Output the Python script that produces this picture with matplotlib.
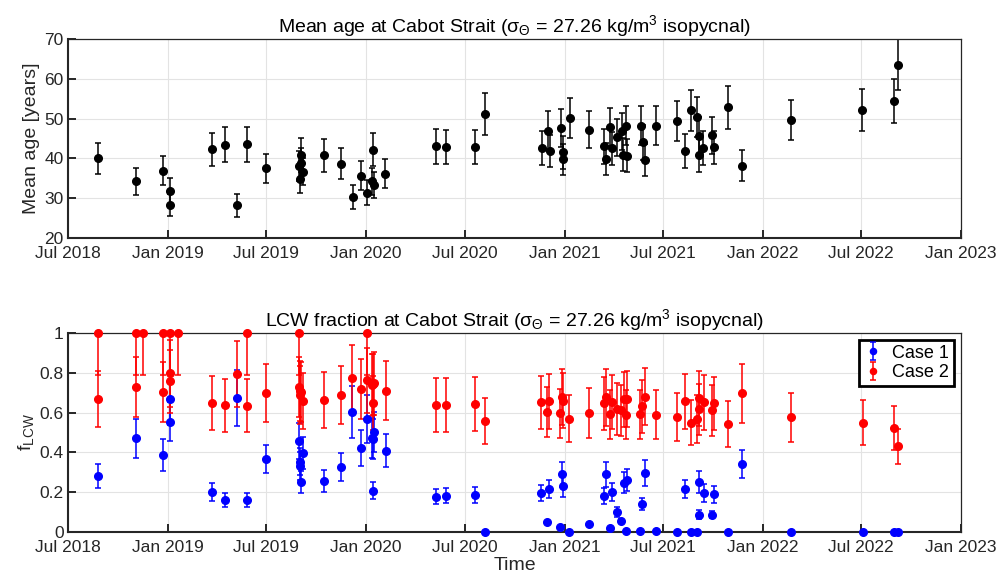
import matplotlib
matplotlib.use("Agg")
import matplotlib.pyplot as plt
import numpy as np
import pandas as pd

plt.rcParams["font.family"] = ["Liberation Sans", "DejaVu Sans"]
plt.rcParams["mathtext.fontset"] = "custom"
plt.rcParams["mathtext.rm"] = "Liberation Sans"
plt.rcParams["mathtext.it"] = "Liberation Sans"

# --- mean age (top panel) ---
age_dates = ["2018-08-25", "2018-11-04", "2018-12-23", "2019-01-05", "2019-01-05",
             "2019-03-23", "2019-04-16", "2019-05-08", "2019-05-27", "2019-07-01",
             "2019-08-30", "2019-09-01", "2019-09-03", "2019-09-04", "2019-09-06",
             "2019-10-16", "2019-11-15", "2019-12-08", "2019-12-23", "2020-01-03",
             "2020-01-12", "2020-01-13", "2020-01-15", "2020-02-05", "2020-05-09",
             "2020-05-28", "2020-07-20", "2020-08-07", "2020-11-20", "2020-12-02",
             "2020-12-05", "2020-12-25", "2020-12-29", "2020-12-29", "2021-01-10",
             "2021-02-15", "2021-03-15", "2021-03-18", "2021-03-26", "2021-03-29",
             "2021-04-08", "2021-04-16", "2021-04-19", "2021-04-23", "2021-04-25",
             "2021-05-22", "2021-05-25", "2021-05-28", "2021-06-18", "2021-07-27",
             "2021-08-10", "2021-08-22", "2021-09-02", "2021-09-05", "2021-09-06",
             "2021-09-13", "2021-09-30", "2021-10-03", "2021-10-28", "2021-11-24",
             "2022-02-22", "2022-07-03", "2022-08-30", "2022-09-06"]
age = [40.0, 34.3, 36.9, 31.8, 28.3,
       42.3, 43.4, 28.2, 43.5, 37.5,
       38.1, 34.7, 38.8, 40.9, 36.6,
       40.8, 38.6, 30.3, 35.7, 31.4,
       34.3, 42.2, 33.4, 36.2, 43.1,
       42.9, 42.8, 51.2, 42.6, 47.0,
       41.9, 47.6, 41.5, 39.8, 50.1,
       47.2, 43.0, 39.8, 47.8, 42.5,
       45.3, 46.8, 40.9, 48.2, 40.7,
       48.2, 44.1, 39.6, 48.2, 49.3,
       41.9, 52.1, 50.4, 45.7, 40.8,
       42.6, 45.8, 42.8, 52.8, 38.2,
       49.6, 52.2, 54.5, 63.5]
age_err = [3.9, 3.4, 3.7, 3.2, 2.8,
           4.2, 4.4, 2.9, 4.4, 3.7,
           3.8, 3.3, 3.9, 4.2, 3.4,
           4.1, 3.9, 3.1, 3.6, 3.2,
           3.4, 4.2, 3.3, 3.6, 4.4,
           4.3, 4.3, 5.2, 4.2, 4.8,
           4.1, 4.7, 4.1, 3.9, 5.0,
           4.7, 4.3, 4.0, 4.8, 4.2,
           4.6, 4.7, 4.1, 4.9, 4.1,
           4.9, 4.4, 4.0, 4.9, 5.0,
           4.2, 5.2, 5.0, 4.6, 4.1,
           4.2, 4.6, 4.2, 5.3, 3.8,
           5.0, 5.2, 5.5, 6.4]

# --- LCW fraction, case 1 ---
c1_dates = ["2018-08-25", "2018-11-04", "2018-12-23", "2019-01-05", "2019-01-05",
            "2019-03-23", "2019-04-16", "2019-05-08", "2019-05-27", "2019-07-01",
            "2019-08-30", "2019-09-01", "2019-09-02", "2019-09-04", "2019-09-06",
            "2019-10-16", "2019-11-15", "2019-12-07", "2019-12-23", "2020-01-03",
            "2020-01-12", "2020-01-13", "2020-01-14", "2020-01-15", "2020-02-06",
            "2020-05-09", "2020-05-28", "2020-07-19", "2020-08-07", "2020-11-18",
            "2020-11-30", "2020-12-03", "2020-12-23", "2020-12-27", "2020-12-28",
            "2021-01-09", "2021-02-15", "2021-03-14", "2021-03-18", "2021-03-25",
            "2021-03-29", "2021-04-08", "2021-04-15", "2021-04-20", "2021-04-23",
            "2021-04-25", "2021-05-20", "2021-05-24", "2021-05-28", "2021-06-18",
            "2021-07-27", "2021-08-10", "2021-08-22", "2021-09-02", "2021-09-05",
            "2021-09-06", "2021-09-14", "2021-09-30", "2021-10-03", "2021-10-28",
            "2021-11-24", "2022-02-22", "2022-07-04", "2022-08-30", "2022-09-06"]
c1 = [0.28, 0.47, 0.386, 0.67, 0.555,
      0.20, 0.163, 0.675, 0.16, 0.366,
      0.456, 0.354, 0.33, 0.25, 0.396,
      0.255, 0.327, 0.602, 0.421, 0.567,
      0.473, 0.208, 0.466, 0.503, 0.408,
      0.178, 0.183, 0.188, 0.0, 0.196,
      0.049, 0.216, 0.027, 0.289, 0.232,
      0.0, 0.042, 0.183, 0.29, 0.018,
      0.20, 0.102, 0.057, 0.248, 0.007,
      0.26, 0.007, 0.143, 0.295, 0.007,
      0.0, 0.216, 0.0, 0.0, 0.253,
      0.087, 0.196, 0.087, 0.19, 0.0,
      0.34, 0.0, 0.0, 0.0, 0.0]
c1_err = [0.06, 0.10, 0.08, 0.13, 0.10,
          0.045, 0.035, 0.14, 0.035, 0.07,
          0.09, 0.07, 0.07, 0.055, 0.08,
          0.055, 0.07, 0.13, 0.09, 0.12,
          0.10, 0.043, 0.10, 0.10, 0.083,
          0.037, 0.038, 0.04, 0.0, 0.042,
          0.0, 0.047, 0.0, 0.062, 0.058,
          0.0, 0.0, 0.04, 0.062, 0.0,
          0.045, 0.025, 0.01, 0.054, 0.0,
          0.055, 0.0, 0.03, 0.065, 0.0,
          0.0, 0.045, 0.0, 0.0, 0.055,
          0.022, 0.043, 0.017, 0.042, 0.0,
          0.07, 0.0, 0.0, 0.0, 0.0]

# --- LCW fraction, case 2 ---
c2_dates = ["2018-08-25", "2018-08-25", "2018-11-04", "2018-11-04", "2018-11-16",
            "2018-12-23", "2018-12-23", "2019-01-05", "2019-01-05", "2019-01-05",
            "2019-01-19", "2019-03-23", "2019-04-16", "2019-05-08", "2019-05-27",
            "2019-05-27", "2019-07-01", "2019-08-30", "2019-08-30", "2019-09-01",
            "2019-09-02", "2019-09-04", "2019-09-06", "2019-10-16", "2019-11-15",
            "2019-12-07", "2019-12-23", "2020-01-03", "2020-01-03", "2020-01-12",
            "2020-01-13", "2020-01-14", "2020-01-15", "2020-02-06", "2020-05-09",
            "2020-05-28", "2020-07-19", "2020-08-07", "2020-11-18", "2020-11-30",
            "2020-12-03", "2020-12-23", "2020-12-27", "2020-12-28", "2021-01-09",
            "2021-02-15", "2021-03-14", "2021-03-18", "2021-03-25", "2021-03-29",
            "2021-04-08", "2021-04-15", "2021-04-20", "2021-04-23", "2021-04-25",
            "2021-05-20", "2021-05-24", "2021-05-28", "2021-06-18", "2021-07-27",
            "2021-08-10", "2021-08-22", "2021-09-02", "2021-09-05", "2021-09-06",
            "2021-09-14", "2021-09-30", "2021-10-03", "2021-10-28", "2021-11-24",
            "2022-02-22", "2022-07-04", "2022-08-30", "2022-09-06"]
c2 = [1.0, 0.67, 1.0, 0.73, 1.0,
      1.0, 0.705, 1.0, 0.797, 0.757,
      1.0, 0.648, 0.636, 0.795, 1.0,
      0.634, 0.698, 1.0, 0.73, 0.69,
      0.71, 0.705, 0.66, 0.664, 0.688,
      0.775, 0.718, 1.0, 0.762, 0.737,
      0.648, 0.742, 0.747, 0.711, 0.64,
      0.64, 0.643, 0.557, 0.651, 0.602,
      0.656, 0.596, 0.678, 0.659, 0.57,
      0.60, 0.646, 0.676, 0.592, 0.653,
      0.619, 0.612, 0.666, 0.59, 0.669,
      0.592, 0.631, 0.68, 0.589, 0.579,
      0.656, 0.55, 0.567, 0.616, 0.671,
      0.651, 0.612, 0.646, 0.542, 0.696,
      0.576, 0.549, 0.523, 0.43]
c2_err = [0.21, 0.14, 0.21, 0.15, 0.21,
          0.21, 0.15, 0.21, 0.167, 0.16,
          0.21, 0.135, 0.133, 0.167, 0.21,
          0.134, 0.147, 0.21, 0.15, 0.145,
          0.15, 0.15, 0.14, 0.14, 0.145,
          0.165, 0.15, 0.21, 0.165, 0.155,
          0.136, 0.155, 0.157, 0.15, 0.135,
          0.135, 0.135, 0.117, 0.135, 0.125,
          0.137, 0.125, 0.142, 0.138, 0.12,
          0.126, 0.135, 0.142, 0.124, 0.137,
          0.13, 0.128, 0.14, 0.124, 0.14,
          0.124, 0.132, 0.143, 0.123, 0.121,
          0.137, 0.115, 0.119, 0.129, 0.14,
          0.136, 0.128, 0.135, 0.114, 0.148,
          0.122, 0.114, 0.11, 0.09]

xticks = ["2018-07-01", "2019-01-01", "2019-07-01", "2020-01-01", "2020-07-01",
          "2021-01-01", "2021-07-01", "2022-01-01", "2022-07-01", "2023-01-01"]
xticklabels = ["Jul 2018", "Jan 2019", "Jul 2019", "Jan 2020", "Jul 2020",
               "Jan 2021", "Jul 2021", "Jan 2022", "Jul 2022", "Jan 2023"]

axcol = "#262626"


def style_axes(ax, ymin, ymax, yticks, yticklabels):
    ax.set_xlim(pd.Timestamp(xticks[0]), pd.Timestamp(xticks[-1]))
    ax.set_ylim(ymin, ymax)
    ax.set_xticks(pd.to_datetime(xticks))
    ax.set_xticklabels(xticklabels)
    ax.set_yticks(yticks)
    ax.set_yticklabels(yticklabels)
    ax.grid(True, color="#e3e3e3", linewidth=0.8)
    ax.set_axisbelow(True)
    ax.tick_params(direction="in", length=6, width=1.4, labelsize=12.5,
                   colors=axcol, top=False, right=False)
    ax.tick_params(axis="x", pad=5.5)
    ax.tick_params(axis="y", pad=3)
    for s in ["left", "bottom"]:
        ax.spines[s].set_linewidth(1.5)
        ax.spines[s].set_color(axcol)
    for s in ["top", "right"]:
        ax.spines[s].set_linewidth(0.9)
        ax.spines[s].set_color(axcol)


def clipped_err(vals, errs, lo, hi):
    v = np.array(vals)
    e = np.array(errs)
    return np.vstack([np.minimum(e, v - lo), np.minimum(e, hi - v)])


fig = plt.figure(figsize=(10.02, 5.83), dpi=100)

# Panel 1: mean age
ax1 = fig.add_axes([0.0679, 0.5918, 0.8912, 0.3413])
ax1.errorbar(pd.to_datetime(age_dates), age, yerr=age_err, fmt="o", color="black",
             markersize=5.5, elinewidth=1.1, capsize=2.2, capthick=1.1)
style_axes(ax1, 20, 70, [20, 30, 40, 50, 60, 70], ["20", "30", "40", "50", "60", "70"])
ax1.set_ylabel("Mean age [years]", fontsize=14, color=axcol, labelpad=3)
ax1.set_title("Mean age at Cabot Strait (σ$_\\mathregular{Θ}$ = 27.26 kg/m$^\\mathregular{3}$ isopycnal)",
              fontsize=14, color="black", pad=5)

# Panel 2: LCW fraction
ax2 = fig.add_axes([0.0679, 0.0875, 0.8912, 0.3413])
ax2.errorbar(pd.to_datetime(c1_dates), c1, yerr=clipped_err(c1, c1_err, 0, 1), fmt="o",
             color="blue", markersize=5.5, elinewidth=1.1, capsize=2.2, capthick=1.1,
             clip_on=False, label="Case 1", zorder=3)
ax2.errorbar(pd.to_datetime(c2_dates), c2, yerr=clipped_err(c2, c2_err, 0, 1), fmt="o",
             color="red", markersize=5.5, elinewidth=1.1, capsize=2.2, capthick=1.1,
             clip_on=False, label="Case 2", zorder=3)
style_axes(ax2, 0, 1, [0, 0.2, 0.4, 0.6, 0.8, 1.0], ["0", "0.2", "0.4", "0.6", "0.8", "1"])
ax2.set_ylabel("f$_\\mathregular{LCW}$", fontsize=14, color=axcol, labelpad=3)
ax2.set_xlabel("Time", fontsize=14, color=axcol, labelpad=2)
ax2.set_title("LCW fraction at Cabot Strait (σ$_\\mathregular{Θ}$ = 27.26 kg/m$^\\mathregular{3}$ isopycnal)",
              fontsize=14, color="black", pad=5)

leg = ax2.legend(loc="upper right", fontsize=13, fancybox=False, framealpha=1,
                 edgecolor="black", borderaxespad=0.4, handlelength=1.0,
                 handletextpad=0.6, borderpad=0.25, labelspacing=0.15, markerscale=0.8)
leg.get_frame().set_linewidth(2)

fig.savefig("out.png", dpi=100)
